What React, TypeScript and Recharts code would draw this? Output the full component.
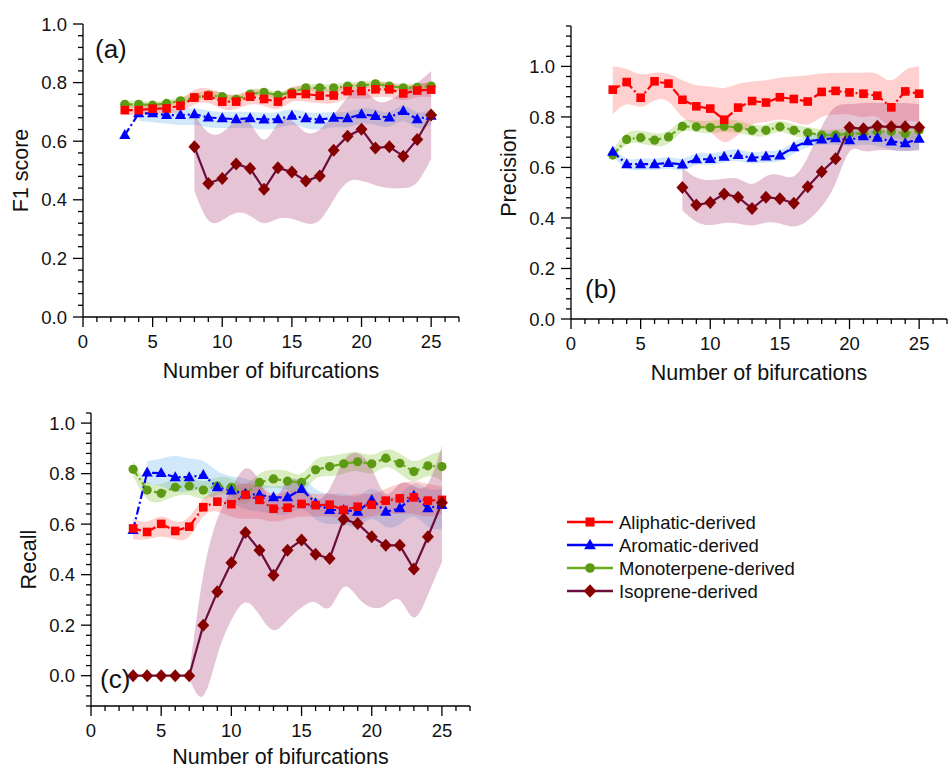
import React from 'react';
import { ComposedChart, Line, Area, XAxis, YAxis } from 'recharts';

const FONT = '"Liberation Sans", Arial, sans-serif';

// x categories
const bifurcations = [3, 4, 5, 6, 7, 8, 9, 10, 11, 12, 13, 14, 15, 16, 17, 18, 19, 20, 21, 22, 23, 24, 25];

const xTickLabels = [0, 5, 10, 15, 20, 25];
const yTickLabels = [0, 0.2, 0.4, 0.6, 0.8, 1.0];

// (a) F1 score
const f1Ali = [0.706, 0.706, 0.711, 0.712, 0.721, 0.749, 0.755, 0.735, 0.735, 0.752, 0.744, 0.735, 0.761, 0.761, 0.755, 0.756, 0.771, 0.771, 0.777, 0.777, 0.763, 0.773, 0.776];
const f1AliHi = [0.725, 0.725, 0.73, 0.735, 0.745, 0.775, 0.78, 0.765, 0.76, 0.775, 0.77, 0.76, 0.785, 0.785, 0.78, 0.78, 0.795, 0.795, 0.8, 0.8, 0.79, 0.795, 0.8];
const f1AliLo = [0.69, 0.69, 0.695, 0.695, 0.7, 0.725, 0.73, 0.71, 0.71, 0.725, 0.72, 0.71, 0.735, 0.735, 0.73, 0.73, 0.745, 0.745, 0.75, 0.75, 0.74, 0.75, 0.75];
const f1Aro = [0.621, 0.695, 0.695, 0.689, 0.689, 0.692, 0.681, 0.678, 0.675, 0.678, 0.674, 0.675, 0.687, 0.678, 0.674, 0.68, 0.678, 0.692, 0.686, 0.681, 0.703, 0.675, 0.687];
const f1AroHi = [null, 0.715, 0.715, 0.712, 0.71, 0.712, 0.705, 0.7, 0.7, 0.7, 0.697, 0.7, 0.708, 0.7, 0.697, 0.7, 0.7, 0.712, 0.708, 0.7, 0.72, 0.7, 0.71];
const f1AroLo = [null, 0.67, 0.665, 0.66, 0.655, 0.655, 0.648, 0.645, 0.645, 0.645, 0.64, 0.645, 0.655, 0.645, 0.64, 0.648, 0.648, 0.66, 0.655, 0.65, 0.668, 0.645, 0.655];
const f1Mono = [0.726, 0.726, 0.723, 0.729, 0.738, 0.75, 0.757, 0.752, 0.743, 0.761, 0.767, 0.757, 0.767, 0.782, 0.782, 0.782, 0.788, 0.79, 0.796, 0.788, 0.782, 0.784, 0.788];
const f1MonoHi = [0.738, 0.738, 0.735, 0.741, 0.75, 0.763, 0.77, 0.765, 0.756, 0.774, 0.78, 0.77, 0.78, 0.795, 0.795, 0.795, 0.8, 0.803, 0.808, 0.8, 0.795, 0.797, 0.8];
const f1MonoLo = [0.714, 0.714, 0.711, 0.717, 0.726, 0.737, 0.744, 0.739, 0.73, 0.748, 0.754, 0.744, 0.754, 0.769, 0.769, 0.769, 0.776, 0.777, 0.784, 0.776, 0.769, 0.771, 0.776];
const f1Iso = [null, null, null, null, null, 0.581, 0.456, 0.473, 0.522, 0.507, 0.436, 0.509, 0.495, 0.464, 0.481, 0.569, 0.617, 0.641, 0.577, 0.581, 0.549, 0.606, 0.689];
const f1IsoHi = [null, null, null, null, null, 0.69, 0.63, 0.63, 0.67, 0.66, 0.605, 0.66, 0.67, 0.63, 0.64, 0.69, 0.75, 0.78, 0.74, 0.74, 0.77, 0.8, 0.84];
const f1IsoLo = [null, null, null, null, null, 0.43, 0.33, 0.33, 0.355, 0.345, 0.32, 0.335, 0.335, 0.32, 0.33, 0.4, 0.46, 0.465, 0.45, 0.44, 0.44, 0.46, 0.54];

// (b) Precision
const prAli = [0.908, 0.938, 0.876, 0.941, 0.932, 0.868, 0.842, 0.833, 0.789, 0.837, 0.863, 0.857, 0.878, 0.871, 0.861, 0.899, 0.903, 0.897, 0.892, 0.884, 0.838, 0.901, 0.892];
const prAliHi = [1.0, 0.99, 0.97, 0.975, 0.97, 0.945, 0.925, 0.92, 0.915, 0.93, 0.94, 0.945, 0.955, 0.96, 0.965, 0.972, 0.975, 0.975, 0.975, 0.97, 0.945, 0.985, 1.0];
const prAliLo = [0.81, 0.85, 0.84, 0.865, 0.86, 0.8, 0.77, 0.74, 0.7, 0.73, 0.77, 0.78, 0.79, 0.78, 0.77, 0.8, 0.81, 0.81, 0.8, 0.8, 0.76, 0.78, 0.78];
const prAro = [0.662, 0.613, 0.613, 0.613, 0.618, 0.612, 0.632, 0.633, 0.642, 0.649, 0.638, 0.643, 0.647, 0.68, 0.704, 0.711, 0.716, 0.708, 0.724, 0.718, 0.703, 0.696, 0.714];
const prAroHi = [0.68, 0.635, 0.635, 0.635, 0.64, 0.635, 0.655, 0.655, 0.665, 0.67, 0.66, 0.665, 0.67, 0.7, 0.725, 0.735, 0.74, 0.74, 0.75, 0.745, 0.735, 0.73, 0.74];
const prAroLo = [0.645, 0.595, 0.59, 0.59, 0.595, 0.59, 0.61, 0.61, 0.62, 0.625, 0.615, 0.62, 0.625, 0.655, 0.68, 0.69, 0.69, 0.685, 0.69, 0.685, 0.67, 0.665, 0.67];
const prMono = [0.649, 0.711, 0.718, 0.708, 0.721, 0.763, 0.761, 0.758, 0.763, 0.758, 0.747, 0.747, 0.761, 0.747, 0.737, 0.728, 0.728, 0.734, 0.734, 0.741, 0.743, 0.734, 0.747];
const prMonoHi = [0.67, 0.735, 0.745, 0.735, 0.745, 0.785, 0.785, 0.785, 0.79, 0.785, 0.77, 0.77, 0.785, 0.77, 0.76, 0.75, 0.75, 0.755, 0.755, 0.765, 0.765, 0.76, 0.77];
const prMonoLo = [0.63, 0.69, 0.695, 0.685, 0.695, 0.74, 0.74, 0.735, 0.74, 0.735, 0.725, 0.725, 0.74, 0.725, 0.715, 0.705, 0.705, 0.71, 0.71, 0.715, 0.72, 0.71, 0.72];
const prIso = [null, null, null, null, null, 0.521, 0.451, 0.461, 0.495, 0.482, 0.437, 0.482, 0.476, 0.458, 0.524, 0.583, 0.634, 0.758, 0.753, 0.763, 0.761, 0.761, 0.758];
const prIsoHi = [null, null, null, null, null, 0.6, 0.56, 0.55, 0.555, 0.555, 0.535, 0.565, 0.57, 0.565, 0.64, 0.76, 0.84, 0.85, 0.855, 0.855, 0.855, 0.855, 0.85];
const prIsoLo = [null, null, null, null, null, 0.43, 0.385, 0.372, 0.38, 0.378, 0.37, 0.382, 0.378, 0.366, 0.39, 0.445, 0.537, 0.662, 0.665, 0.668, 0.668, 0.665, 0.668];

// (c) Recall
const reAli = [0.583, 0.569, 0.601, 0.573, 0.59, 0.667, 0.689, 0.679, 0.716, 0.696, 0.661, 0.665, 0.68, 0.675, 0.677, 0.656, 0.669, 0.677, 0.693, 0.702, 0.706, 0.693, 0.696];
const reAliHi = [0.62, 0.61, 0.63, 0.61, 0.63, 0.7, 0.73, 0.75, 0.76, 0.75, 0.72, 0.73, 0.73, 0.72, 0.72, 0.71, 0.72, 0.72, 0.74, 0.76, 0.77, 0.76, 0.75];
const reAliLo = [0.54, 0.54, 0.55, 0.54, 0.55, 0.63, 0.65, 0.63, 0.62, 0.62, 0.61, 0.62, 0.63, 0.63, 0.63, 0.62, 0.62, 0.63, 0.64, 0.64, 0.64, 0.63, 0.64];
const reAro = [0.577, 0.804, 0.802, 0.786, 0.786, 0.795, 0.746, 0.733, 0.72, 0.716, 0.706, 0.706, 0.739, 0.683, 0.656, 0.656, 0.649, 0.696, 0.649, 0.663, 0.712, 0.663, 0.676];
const reAroHi = [null, 0.85, 0.86, 0.87, 0.86, 0.85, 0.81, 0.79, 0.78, 0.76, 0.75, 0.76, 0.78, 0.74, 0.72, 0.72, 0.71, 0.74, 0.71, 0.72, 0.76, 0.74, 0.74];
const reAroLo = [null, 0.76, 0.75, 0.73, 0.73, 0.73, 0.69, 0.68, 0.66, 0.65, 0.64, 0.64, 0.66, 0.62, 0.6, 0.6, 0.59, 0.62, 0.59, 0.6, 0.63, 0.59, 0.58];
const reMono = [0.817, 0.735, 0.722, 0.746, 0.751, 0.735, 0.751, 0.746, 0.72, 0.765, 0.779, 0.77, 0.765, 0.815, 0.828, 0.839, 0.847, 0.839, 0.861, 0.841, 0.808, 0.831, 0.828];
const reMonoHi = [0.85, 0.77, 0.76, 0.78, 0.785, 0.77, 0.785, 0.78, 0.76, 0.8, 0.815, 0.81, 0.8, 0.855, 0.87, 0.88, 0.885, 0.875, 0.895, 0.88, 0.85, 0.87, 0.89];
const reMonoLo = [0.79, 0.7, 0.69, 0.71, 0.715, 0.7, 0.715, 0.71, 0.68, 0.73, 0.745, 0.735, 0.73, 0.78, 0.79, 0.8, 0.81, 0.8, 0.825, 0.8, 0.77, 0.79, 0.77];
const reIso = [0, 0, 0, 0, 0, 0.2, 0.332, 0.447, 0.567, 0.497, 0.398, 0.497, 0.537, 0.481, 0.464, 0.619, 0.603, 0.55, 0.516, 0.516, 0.422, 0.55, 0.685];
const reIsoHi = [null, null, null, null, 0.01, 0.4, 0.62, 0.74, 0.82, 0.77, 0.7, 0.77, 0.76, 0.7, 0.74, 0.85, 0.88, 0.82, 0.72, 0.76, 0.75, 0.76, 0.91];
const reIsoLo = [null, null, null, null, -0.01, -0.08, 0.08, 0.22, 0.29, 0.24, 0.18, 0.22, 0.27, 0.29, 0.27, 0.35, 0.31, 0.27, 0.28, 0.3, 0.23, 0.32, 0.45];

type Shape = 'square' | 'triangle' | 'circle' | 'diamond';
const SERIES: { key: string; name: string; color: string; line: string; band: string; shape: Shape; dash?: string }[] = [
    { key: 'mono', name: 'Monoterpene-derived', color: '#5c9a14', line: '#6aab20', band: 'rgba(140,200,60,0.32)', shape: 'circle', dash: '8 3 2 3' },
    { key: 'aro', name: 'Aromatic-derived', color: '#0000ff', line: '#0000ff', band: 'rgba(100,180,240,0.3)', shape: 'triangle', dash: '8 3 2 3' },
    { key: 'ali', name: 'Aliphatic-derived', color: '#ff0000', line: '#ff0000', band: 'rgba(255,40,40,0.22)', shape: 'square', dash: '8 3 2 3' },
    { key: 'iso', name: 'Isoprene-derived', color: '#860000', line: '#6b0d3d', band: 'rgba(170,60,120,0.3)', shape: 'diamond' },
];
const LEGEND_ORDER = ['ali', 'aro', 'mono', 'iso'];

type Arr = (number | null)[];
const buildRows = (s: Record<string, [Arr, Arr, Arr]>) =>
    bifurcations.map((n, i) => {
        const row: Record<string, any> = { n };
        Object.keys(s).forEach((k) => {
            const [v, lo, hi] = s[k];
            row[k] = v[i];
            row[k + 'Band'] = lo[i] == null || hi[i] == null ? null : [lo[i], hi[i]];
        });
        return row;
    });

const f1Rows = buildRows({
    ali: [f1Ali, f1AliLo, f1AliHi], aro: [f1Aro, f1AroLo, f1AroHi],
    mono: [f1Mono, f1MonoLo, f1MonoHi], iso: [f1Iso, f1IsoLo, f1IsoHi],
});
const prRows = buildRows({
    ali: [prAli, prAliLo, prAliHi], aro: [prAro, prAroLo, prAroHi],
    mono: [prMono, prMonoLo, prMonoHi], iso: [prIso, prIsoLo, prIsoHi],
});
const reRows = buildRows({
    ali: [reAli, reAliLo, reAliHi], aro: [reAro, reAroLo, reAroHi],
    mono: [reMono, reMonoLo, reMonoHi], iso: [reIso, reIsoLo, reIsoHi],
});

// minor tick positions (axis decoration only)
const steps = (a: number, b: number, st: number) => {
    const out: number[] = [];
    for (let v = a; v <= b + 1e-9; v += st) out.push(Math.round(v * 100) / 100);
    return out;
};
const X_TICKS = steps(0, 27, 1);

function Marker({ shape, cx, cy, color, s = 1 }: { shape: Shape; cx: number; cy: number; color: string; s?: number }) {
    if (shape === 'square') return <rect x={cx - 4.3 * s} y={cy - 4.3 * s} width={8.6 * s} height={8.6 * s} fill={color} />;
    if (shape === 'circle') return <circle cx={cx} cy={cy} r={4.6 * s} fill={color} />;
    if (shape === 'triangle')
        return <polygon points={`${cx},${cy - 6 * s} ${cx - 5.6 * s},${cy + 4 * s} ${cx + 5.6 * s},${cy + 4 * s}`} fill={color} />;
    return <polygon points={`${cx},${cy - 6.5 * s} ${cx + 6 * s},${cy} ${cx},${cy + 6.5 * s} ${cx - 6 * s},${cy}`} fill={color} />;
}

const makeDot = (shape: Shape, color: string) => (p: any) => {
    const { cx, cy, index } = p;
    if (!Number.isFinite(cx) || !Number.isFinite(cy) || p.value == null) return <g key={`e${index}`} />;
    return <Marker key={`d${index}`} shape={shape} cx={cx} cy={cy} color={color} />;
};

function XTick(props: any) {
    const { x, y, payload, side } = props;
    const v = payload.value;
    const major = xTickLabels.includes(v);
    const d = side === 'top' ? -1 : 1;
    return (
        <g>
            <line x1={x} x2={x} y1={y} y2={y + d * (major ? 10 : 5)} stroke="#000" strokeWidth={1.3} />
            {major && side === 'bottom' ? (
                <text x={x} y={y + 31} textAnchor="middle" fontSize={18.5} fill="#111" fontFamily={FONT}>{v}</text>
            ) : null}
        </g>
    );
}

function YTick(props: any) {
    const { x, y, payload, side } = props;
    const v = payload.value;
    const major = yTickLabels.some((t) => Math.abs(t - v) < 1e-6);
    const d = side === 'right' ? 1 : -1;
    return (
        <g>
            <line x1={x} x2={x + d * (major ? 10 : 5)} y1={y} y2={y} stroke="#000" strokeWidth={1.3} />
            {major && side === 'left' ? (
                <text x={x - 16} y={y} dy="0.36em" textAnchor="end" fontSize={18.5} fill="#111" fontFamily={FONT}>{v.toFixed(1)}</text>
            ) : null}
        </g>
    );
}

const yTitle = (text: string) => (p: any) => {
    const vb = p.viewBox || {};
    const tx = vb.x + vb.width - 55;
    const ty = vb.y + vb.height / 2;
    return (
        <text x={tx} y={ty} transform={`rotate(-90 ${tx} ${ty})`} textAnchor="middle" fontSize={21.5} fill="#111" fontFamily={FONT}>
            {text}
        </text>
    );
};

const AXIS = { stroke: '#000', strokeWidth: 1.3 };

interface PanelProps {
    rows: any[];
    yDomain: [number, number];
    yTitleText: string;
    left: number;
    top: number;
    width: number;
    height: number;
    marginTop: number;
    marginRight: number;
    titleOffset: number;
}

function Panel({ rows, yDomain, yTitleText, left, top, width, height, marginTop, marginRight, titleOffset }: PanelProps) {
    const yTicks = steps(yDomain[0], yDomain[1], 0.04);
    return (
        <div style={{ position: 'absolute', left, top }}>
            <ComposedChart width={width} height={height} data={rows} margin={{ top: marginTop, right: marginRight, bottom: 0, left: 0 }}>
                <XAxis
                    dataKey="n" type="number" domain={[0, 27]} ticks={X_TICKS} interval={0} allowDataOverflow
                    height={73} tickSize={0} tickMargin={0} tickLine={false} axisLine={AXIS}
                    tick={<XTick side="bottom" />}
                    label={{ value: 'Number of bifurcations', position: 'insideBottom', offset: titleOffset, fontSize: 21.5, fill: '#111', fontFamily: FONT }}
                />
                <XAxis
                    xAxisId="top" orientation="top" dataKey="n" type="number" domain={[0, 27]} ticks={X_TICKS} interval={0} allowDataOverflow
                    height={0} tickSize={0} tickMargin={0} tickLine={false} axisLine={AXIS}
                    tick={<XTick side="top" />}
                />
                <YAxis
                    type="number" domain={yDomain} ticks={yTicks} interval={0} allowDataOverflow
                    width={83} tickSize={0} tickMargin={0} tickLine={false} axisLine={AXIS}
                    tick={<YTick side="left" />}
                    label={{ content: yTitle(yTitleText) }}
                />
                <YAxis
                    yAxisId="right" orientation="right" type="number" domain={yDomain} ticks={yTicks} interval={0} allowDataOverflow
                    width={0} tickSize={0} tickMargin={0} tickLine={false} axisLine={AXIS}
                    tick={<YTick side="right" />}
                />
                {SERIES.map((s) => (
                    <Area
                        key={s.key + 'Band'}
                        dataKey={s.key + 'Band'}
                        type="natural"
                        stroke="none"
                        fill={s.band}
                        fillOpacity={1}
                        isAnimationActive={false}
                        activeDot={false}
                        dot={false}
                    />
                ))}
                {SERIES.map((s) => (
                    <Line
                        key={s.key}
                        dataKey={s.key}
                        type="linear"
                        stroke={s.line}
                        strokeWidth={2.2}
                        strokeDasharray={s.dash}
                        dot={makeDot(s.shape, s.color)}
                        activeDot={false}
                        isAnimationActive={false}
                    />
                ))}
            </ComposedChart>
        </div>
    );
}

export default function App() {
    const legend = LEGEND_ORDER.map((k) => SERIES.find((s) => s.key === k)!);
    return (
        <div style={{ position: 'relative', width: 949, height: 770, overflow: 'hidden', background: '#fff', fontFamily: FONT }}>
            <style>{'body{margin:0;background:#fff}'}</style>
            <Panel rows={f1Rows} yDomain={[0, 1]} yTitleText="F1 score" left={0} top={0} width={470} height={390} marginTop={24} marginRight={11} titleOffset={12} />
            <Panel rows={prRows} yDomain={[0, 1.16]} yTitleText="Precision" left={488} top={0} width={461} height={392} marginTop={26} marginRight={2} titleOffset={12} />
            <Panel rows={reRows} yDomain={[-0.12, 1.04]} yTitleText="Recall" left={8} top={389} width={473} height={390} marginTop={24} marginRight={11} titleOffset={15} />
            <svg width={949} height={770} style={{ position: 'absolute', left: 0, top: 0, pointerEvents: 'none' }}>
                <text x={95} y={58} fontSize={26} fill="#111" fontFamily={FONT}>(a)</text>
                <text x={585} y={298} fontSize={26} fill="#111" fontFamily={FONT}>(b)</text>
                <text x={100} y={688} fontSize={26} fill="#111" fontFamily={FONT}>(c)</text>
                {legend.map((s, i) => {
                    const cy = 522 + i * 23;
                    return (
                        <g key={s.key}>
                            <line x1={567} x2={613} y1={cy} y2={cy} stroke={s.line} strokeWidth={2.6} />
                            <Marker shape={s.shape} cx={590} cy={cy} color={s.color} s={1.05} />
                            <text x={619} y={cy + 6.5} fontSize={18.5} fill="#111" fontFamily={FONT}>{s.name}</text>
                        </g>
                    );
                })}
            </svg>
        </div>
    );
}
